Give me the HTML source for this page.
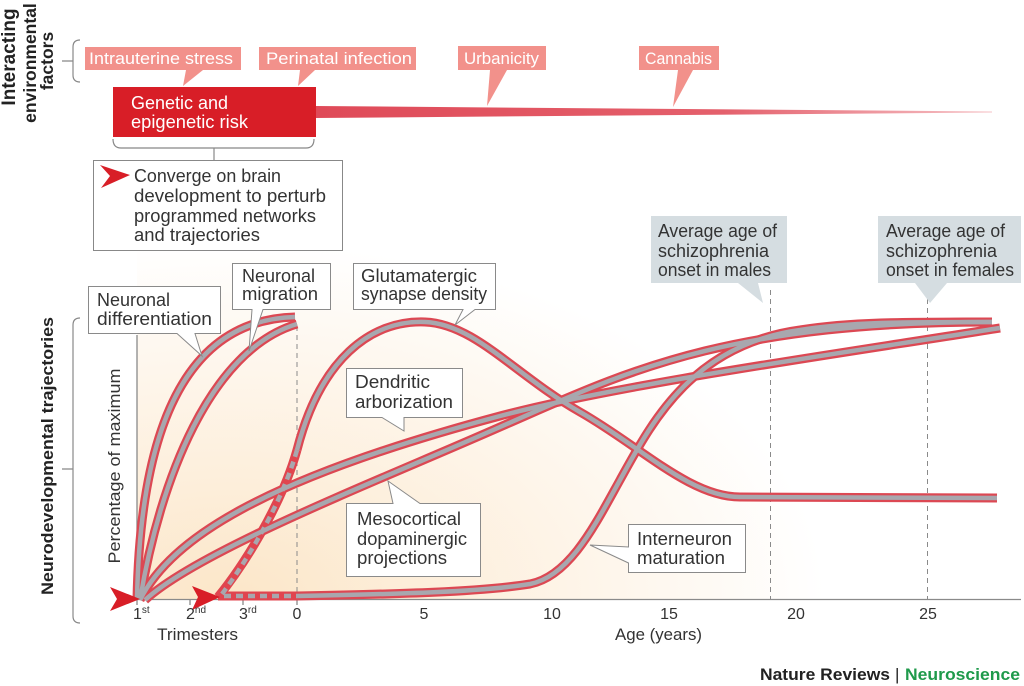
<!DOCTYPE html>
<html>
<head>
<meta charset="utf-8">
<style>
  html,body{margin:0;padding:0;background:#fff;}
  svg{display:block;}
  text{font-family:"Liberation Sans", Arial, sans-serif;}
</style>
</head>
<body>
<svg width="1024" height="686" viewBox="0 0 1024 686" xmlns="http://www.w3.org/2000/svg">
  <defs>
    <radialGradient id="bg" gradientUnits="userSpaceOnUse" cx="230" cy="600" r="700"
      gradientTransform="translate(230,600) scale(1,0.6) translate(-230,-600)">
      <stop offset="0" stop-color="#fce6c8"/>
      <stop offset="0.3" stop-color="#fdefdc"/>
      <stop offset="0.62" stop-color="#fef8f0"/>
      <stop offset="0.85" stop-color="#ffffff"/>
      <stop offset="1" stop-color="#ffffff"/>
    </radialGradient>
    <linearGradient id="wedge" x1="316" y1="0" x2="995" y2="0" gradientUnits="userSpaceOnUse">
      <stop offset="0" stop-color="#df4a58"/>
      <stop offset="0.6" stop-color="#e4606c"/>
      <stop offset="1" stop-color="#f6c4c8"/>
    </linearGradient>
  </defs>

  <!-- background cream -->
  <rect x="137" y="250" width="885" height="350" fill="url(#bg)"/>

  <!-- ===== top section ===== -->
  <g font-weight="bold" fill="#222">
    <text transform="translate(15,57) rotate(-90)" text-anchor="middle" font-size="19">Interacting</text>
    <text transform="translate(36,63) rotate(-90)" text-anchor="middle" font-size="17.5">environmental</text>
    <text transform="translate(53,61) rotate(-90)" text-anchor="middle" font-size="17.5">factors</text>
  </g>
  <path d="M80,40 Q73,40 73,47 V75 Q73,82 80,82 M62,61 H73" fill="none" stroke="#888" stroke-width="1.2"/>

  <!-- wedge -->
  <polygon points="315,106 992,111.5 992,112.5 315,118" fill="url(#wedge)"/>

  <!-- pink factor labels -->
  <g fill="#f2918b">
    <path d="M85,47 H241 V70 H203 L183,86 L186,70 H85 Z"/>
    <path d="M259,47 H416 V70 H315 L298,86 L300,70 H259 Z"/>
    <path d="M458,46 H546 V70 H507 L487,106 L490,70 H458 Z"/>
    <path d="M639,46 H719 V70 H693 L673,107 L678,70 H639 Z"/>
  </g>
  <g fill="#fff" font-size="17">
    <text x="89" y="64" textLength="144" lengthAdjust="spacingAndGlyphs">Intrauterine stress</text>
    <text x="266" y="64" textLength="146" lengthAdjust="spacingAndGlyphs">Perinatal infection</text>
    <text x="464" y="64" textLength="75" lengthAdjust="spacingAndGlyphs">Urbanicity</text>
    <text x="645" y="64" textLength="67" lengthAdjust="spacingAndGlyphs">Cannabis</text>
  </g>

  <!-- red box -->
  <rect x="113" y="87" width="203" height="50" fill="#d81e27"/>
  <g fill="#fff" font-size="18">
    <text x="131" y="109" textLength="97" lengthAdjust="spacingAndGlyphs">Genetic and</text>
    <text x="131" y="128" textLength="117" lengthAdjust="spacingAndGlyphs">epigenetic risk</text>
  </g>
  <path d="M113,139 Q113,148 121,148 H306 Q314,148 314,139 M214,148 V160" fill="none" stroke="#888" stroke-width="1.2"/>

  <!-- converge box -->
  <rect x="93.5" y="160.5" width="249" height="90" fill="#fff" stroke="#888" stroke-width="1"/>
  <path d="M130,175 L100,165 L110,176 L101,188 Z" fill="#d81e27"/>
  <g fill="#333" font-size="18">
    <text x="134" y="182" textLength="147" lengthAdjust="spacingAndGlyphs">Converge on brain</text>
    <text x="134" y="202" textLength="192" lengthAdjust="spacingAndGlyphs">development to perturb</text>
    <text x="134" y="222" textLength="182" lengthAdjust="spacingAndGlyphs">programmed networks</text>
    <text x="134" y="241" textLength="126" lengthAdjust="spacingAndGlyphs">and trajectories</text>
  </g>

  <!-- ===== bottom section ===== -->
  <text transform="translate(53,456) rotate(-90)" text-anchor="middle" font-weight="bold" fill="#222" font-size="17" textLength="278" lengthAdjust="spacingAndGlyphs">Neurodevelopmental trajectories</text>
  <path d="M80,318 Q73,318 73,325 V616 Q73,623 80,623 M62,469 H73" fill="none" stroke="#888" stroke-width="1.2"/>
  <text transform="translate(120,466) rotate(-90)" text-anchor="middle" fill="#333" font-size="17" textLength="195" lengthAdjust="spacingAndGlyphs">Percentage of maximum</text>

  <!-- dashed verticals -->
  <g stroke="#8a8a8a" stroke-width="1" stroke-dasharray="5,4" fill="none">
    <path d="M297,326 V599"/>
    <path d="M770.5,290 V599"/>
    <path d="M927.5,290 V599"/>
  </g>

  <!-- axes -->
  <g stroke="#8a8a8a" stroke-width="1.3" fill="none">
    <path d="M137,335 V599.5 H1021"/>
    <path d="M137,599 V605 M190,599 V605 M243,599 V605 M297,599 V605"/>
  </g>

  <!-- curves: red outer -->
  <g fill="none" stroke="#dc4853" stroke-width="9">
    <path d="M137,600 C140,440 180,320 295,317"/>
    <path d="M140,600 C160,480 210,350 297,324"/>
    <path d="M140,600 C170,540 260,480 500,416 C620,384 850,352 1000,328"/>
    <path d="M145,600 C200,550 380,480 500,427 C620,375 720,322 992,322"/>
    <path d="M297,450 C320,360 370,320 425,322 C475,324 515,375 580,412 C640,446 690,497 740,497 L997,498"/>
    <path d="M297,596 C400,594 480,592 530,584 C570,576 595,525 620,480 C650,426 690,345 800,330 C850,322 900,322 992,322"/>
  </g>
  <g fill="none" stroke="#e0454f" stroke-width="9">
    <path d="M218,597 C240,570 280,510 297,450"/>
    <path d="M218,596 L297,596"/>
  </g>
  <!-- curves: gray inner -->
  <g fill="none" stroke="#a8a7ae" stroke-width="4.5">
    <path d="M137,600 C140,440 180,320 295,317"/>
    <path d="M140,600 C160,480 210,350 297,324"/>
    <path d="M140,600 C170,540 260,480 500,416 C620,384 850,352 1000,328"/>
    <path d="M145,600 C200,550 380,480 500,427 C620,375 720,322 992,322"/>
    <path d="M297,450 C320,360 370,320 425,322 C475,324 515,375 580,412 C640,446 690,497 740,497 L997,498"/>
    <path d="M297,596 C400,594 480,592 530,584 C570,576 595,525 620,480 C650,426 690,345 800,330 C850,322 900,322 992,322"/>
  </g>
  <g fill="none" stroke="#a8a7ae" stroke-width="4.5" stroke-dasharray="7,5">
    <path d="M222,594 C240,570 280,510 297,450"/>
    <path d="M224,596 L297,596"/>
  </g>

  <!-- arrowheads -->
  <path d="M140,599 L110,587 L117,599 L110,611 Z" fill="#d81e27"/>
  <path d="M220,597 L192,586 L198,597 L192,610 Z" fill="#d81e27"/>

  <!-- tick labels -->
  <g fill="#333" font-size="16">
    <text x="133" y="619">1<tspan font-size="10" dy="-6">st</tspan></text>
    <text x="186" y="619">2<tspan font-size="10" dy="-6">nd</tspan></text>
    <text x="239" y="619">3<tspan font-size="10" dy="-6">rd</tspan></text>
    <text x="297" y="619" text-anchor="middle">0</text>
    <text x="424" y="619" text-anchor="middle">5</text>
    <text x="552" y="619" text-anchor="middle">10</text>
    <text x="669" y="619" text-anchor="middle">15</text>
    <text x="796" y="619" text-anchor="middle">20</text>
    <text x="928" y="619" text-anchor="middle">25</text>
    <text x="157" y="640" font-size="17" textLength="81" lengthAdjust="spacingAndGlyphs">Trimesters</text>
    <text x="615" y="640" font-size="17" textLength="87" lengthAdjust="spacingAndGlyphs">Age (years)</text>
  </g>

  <!-- white label boxes -->
  <g fill="#fff" stroke="#8a8a8a" stroke-width="1">
    <path d="M88.5,286.5 H220.5 V333.5 H195 L202,356 L177,333.5 H88.5 Z"/>
    <path d="M232.5,263.5 H330.5 V309.5 H263 L249,351 L252,309.5 H232.5 Z"/>
    <path d="M353.5,263.5 H495.5 V309.5 H475 L455,325 L463,309.5 H353.5 Z"/>
    <path d="M346.5,368.5 H462.5 V417.5 H404 V431 L382,417.5 H346.5 Z"/>
    <path d="M346.5,503.5 H393 L388,481 L420,503.5 H480.5 V576.5 H346.5 Z"/>
    <path d="M628.5,524.5 H745.5 V572.5 H628.5 V563 L590,545 L628.5,547 Z"/>
  </g>
  <g fill="#333" font-size="18">
    <text x="97" y="306" textLength="73" lengthAdjust="spacingAndGlyphs">Neuronal</text>
    <text x="97" y="325" textLength="115" lengthAdjust="spacingAndGlyphs">differentiation</text>
    <text x="242" y="282" textLength="73" lengthAdjust="spacingAndGlyphs">Neuronal</text>
    <text x="242" y="300" textLength="76" lengthAdjust="spacingAndGlyphs">migration</text>
    <text x="361" y="282" textLength="116" lengthAdjust="spacingAndGlyphs">Glutamatergic</text>
    <text x="361" y="300" textLength="126" lengthAdjust="spacingAndGlyphs">synapse density</text>
    <text x="355" y="388" textLength="75" lengthAdjust="spacingAndGlyphs">Dendritic</text>
    <text x="355" y="408" textLength="98" lengthAdjust="spacingAndGlyphs">arborization</text>
    <text x="357" y="525" textLength="104" lengthAdjust="spacingAndGlyphs">Mesocortical</text>
    <text x="357" y="545" textLength="110" lengthAdjust="spacingAndGlyphs">dopaminergic</text>
    <text x="357" y="564" textLength="90" lengthAdjust="spacingAndGlyphs">projections</text>
    <text x="637" y="545" textLength="95" lengthAdjust="spacingAndGlyphs">Interneuron</text>
    <text x="637" y="564" textLength="88" lengthAdjust="spacingAndGlyphs">maturation</text>
  </g>

  <!-- gray onset boxes -->
  <g fill="#d5dde1">
    <path d="M651,216 H787 V283 H758 L763,303 L738,283 H651 Z"/>
    <path d="M878,216 H1021 V283 H947 L930,303 L915,283 H878 Z"/>
  </g>
  <g fill="#333" font-size="18">
    <text x="658" y="237" textLength="119" lengthAdjust="spacingAndGlyphs">Average age of</text>
    <text x="658" y="257" textLength="111" lengthAdjust="spacingAndGlyphs">schizophrenia</text>
    <text x="658" y="276" textLength="113" lengthAdjust="spacingAndGlyphs">onset in males</text>
    <text x="886" y="237" textLength="119" lengthAdjust="spacingAndGlyphs">Average age of</text>
    <text x="886" y="257" textLength="111" lengthAdjust="spacingAndGlyphs">schizophrenia</text>
    <text x="886" y="276" textLength="128" lengthAdjust="spacingAndGlyphs">onset in females</text>
  </g>

  <!-- footer -->
  <g font-size="17" font-weight="bold">
    <text x="760" y="680" fill="#222" textLength="130" lengthAdjust="spacingAndGlyphs">Nature Reviews</text>
    <text x="895" y="680" fill="#222" font-weight="normal">|</text>
    <text x="905" y="680" fill="#1f9a4b" textLength="115" lengthAdjust="spacingAndGlyphs">Neuroscience</text>
  </g>
</svg>
</body>
</html>
